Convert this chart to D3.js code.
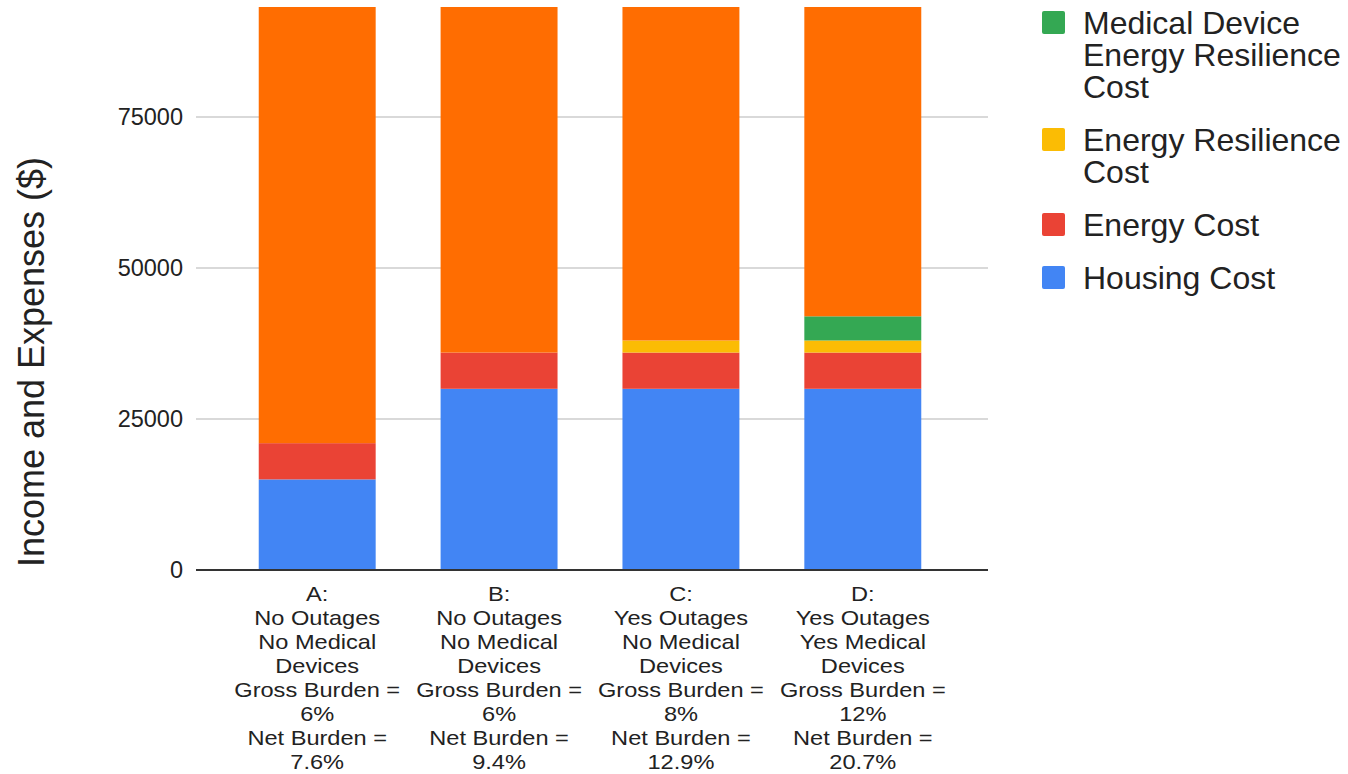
<!DOCTYPE html>
<html>
<head>
<meta charset="utf-8">
<script src="https://cdn.jsdelivr.net/npm/d3@7"></script>
<style>
  body { margin: 0; background: #fff; }
  svg { font-family: "Liberation Sans", Arial, sans-serif; }
</style>
</head>
<body>
<svg id="chart" width="1348" height="774"></svg>
<script>
// scenario labels (each line of the x axis label)
const categories = ["A", "B", "C", "D"]
const categoryLines = [
  ["A:", "No Outages", "No Medical", "Devices", "Gross Burden =", "6%", "Net Burden =", "7.6%"],
  ["B:", "No Outages", "No Medical", "Devices", "Gross Burden =", "6%", "Net Burden =", "9.4%"],
  ["C:", "Yes Outages", "No Medical", "Devices", "Gross Burden =", "8%", "Net Burden =", "12.9%"],
  ["D:", "Yes Outages", "Yes Medical", "Devices", "Gross Burden =", "12%", "Net Burden =", "20.7%"]
]

// stacked series, bottom to top
const housingCost = [15000, 30000, 30000, 30000]
const energyCost = [6000, 6000, 6000, 6000]
const resilienceCost = [0, 0, 2000, 2000]
const medicalCost = [0, 0, 0, 4000]
const income = [100000, 100000, 100000, 100000]
const remainingIncome = income.map((v, i) => v - housingCost[i] - energyCost[i] - resilienceCost[i] - medicalCost[i])

const seriesNames = ["Housing Cost", "Energy Cost", "Energy Resilience Cost", "Medical Device Energy Resilience Cost", "Remaining Income"]
const seriesColors = ["#4285F4", "#EA4335", "#FBBC04", "#34A853", "#FF6D01"]
const yTicks = [0, 25000, 50000, 75000]

// legend entries, top to bottom, with wrapped lines
const legendItems = [
  { color: "#34A853", lines: ["Medical Device", "Energy Resilience", "Cost"] },
  { color: "#FBBC04", lines: ["Energy Resilience", "Cost"] },
  { color: "#EA4335", lines: ["Energy Cost"] },
  { color: "#4285F4", lines: ["Housing Cost"] }
]

const rows = categories.map((c, i) => ({
  cat: c,
  "Housing Cost": housingCost[i],
  "Energy Cost": energyCost[i],
  "Energy Resilience Cost": resilienceCost[i],
  "Medical Device Energy Resilience Cost": medicalCost[i],
  "Remaining Income": remainingIncome[i]
}))

const svg = d3.select("#chart")
const plotLeft = 196, plotRight = 988, plotTop = 7, plotBottom = 570

const x = d3.scaleBand().domain(categories).range([226, 954]).paddingInner(0.357).paddingOuter(0.18)
const y = d3.scaleLinear().domain([0, 75000]).range([plotBottom, 117])

svg.append("defs").append("clipPath").attr("id", "plotClip")
  .append("rect").attr("x", plotLeft).attr("y", plotTop)
  .attr("width", plotRight - plotLeft).attr("height", plotBottom - plotTop)

// gridlines
svg.append("g").selectAll("line")
  .data(yTicks.filter(t => t > 0))
  .join("line")
  .attr("x1", plotLeft).attr("x2", plotRight)
  .attr("y1", d => y(d)).attr("y2", d => y(d))
  .attr("stroke", "#cccccc").attr("stroke-width", 1.5)

// y tick labels
svg.append("g").selectAll("text")
  .data(yTicks)
  .join("text")
  .attr("x", 183).attr("y", d => y(d))
  .attr("dy", "0.35em")
  .attr("text-anchor", "end")
  .attr("font-size", 23.5)
  .attr("fill", "#222")
  .text(d => d)

// stacked bars
const stack = d3.stack().keys(seriesNames)(rows)
svg.append("g").attr("clip-path", "url(#plotClip)")
  .selectAll("g")
  .data(stack)
  .join("g")
  .attr("fill", (d, i) => seriesColors[i])
  .selectAll("rect")
  .data(d => d)
  .join("rect")
  .attr("x", d => x(d.data.cat))
  .attr("width", x.bandwidth())
  .attr("y", d => y(d[1]))
  .attr("height", d => y(d[0]) - y(d[1]))

// baseline
svg.append("line")
  .attr("x1", plotLeft).attr("x2", plotRight)
  .attr("y1", plotBottom).attr("y2", plotBottom)
  .attr("stroke", "#333").attr("stroke-width", 2)

// x labels, multi-line (the original text is a bit wide, so stretch it)
const xl = svg.append("g").selectAll("text")
  .data(categories)
  .join("text")
  .attr("transform", d => `translate(${x(d) + x.bandwidth() / 2},0) scale(1.18,1)`)
  .attr("text-anchor", "middle")
  .attr("font-size", 20)
  .attr("fill", "#222")
xl.selectAll("tspan")
  .data((d, i) => categoryLines[i])
  .join("tspan")
  .attr("x", 0)
  .attr("y", (d, j) => 601 + j * 24)
  .text(d => d)

// y axis title
svg.append("text")
  .attr("transform", "translate(44,362) rotate(-90)")
  .attr("text-anchor", "middle")
  .attr("font-size", 36)
  .attr("fill", "#222")
  .text("Income and Expenses ($)")

// legend
let ly = 11
legendItems.forEach(item => {
  const g = svg.append("g")
  g.append("rect")
    .attr("x", 1042).attr("y", ly).attr("width", 23).attr("height", 23)
    .attr("rx", 2).attr("fill", item.color)
  g.append("text")
    .attr("font-size", 32).attr("fill", "#222")
    .selectAll("tspan")
    .data(item.lines)
    .join("tspan")
    .attr("x", 1083)
    .attr("y", (d, j) => ly + 23 + j * 32)
    .text(d => d)
  ly += item.lines.length * 32 + 21
})
</script>
</body>
</html>
